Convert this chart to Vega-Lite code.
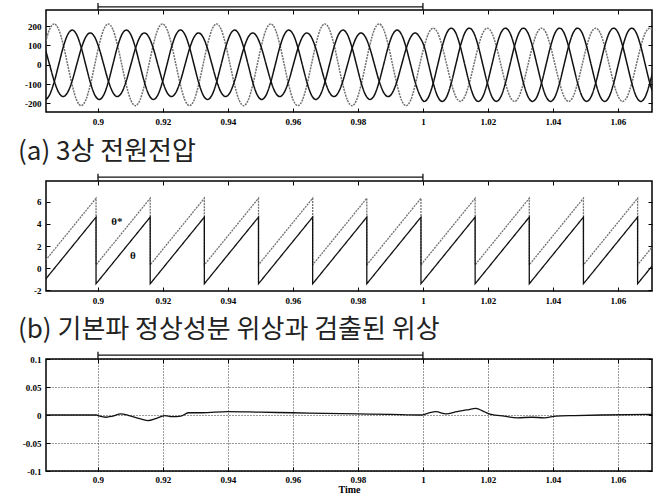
{
"$schema": "https://vega.github.io/schema/vega-lite/v6.json",
"padding": {"left": 17, "top": 1, "right": 0, "bottom": 0},
"background": "white",
"spacing": 6,
"config": {
 "view": {"stroke": "#000", "strokeWidth": 1.5},
 "axis": {"domain": false, "tickSize": -4, "tickColor": "#000", "tickWidth": 1, "labelFont": "Liberation Serif", "labelFontWeight": "bold", "labelFontSize": 9, "labelColor": "#000", "labelPadding": 9, "grid": false, "labelFlush": false, "labelOverlap": false},
 "title": {"font": "Noto Sans CJK KR", "fontSize": 26, "fontWeight": "normal", "color": "#222", "orient": "bottom", "anchor": "start", "frame": "group", "dx": -28}
},
"datasets": {
 "br": [{"from": 0.9, "to": 1.0}],
 "v3": [
{"t":0.88233,"p":"a","v":0},{"t":0.88372,"p":"a","v":106},{"t":0.88511,"p":"a","v":184},{"t":0.8865,"p":"a","v":212},{"t":0.88789,"p":"a","v":184},{"t":0.88928,"p":"a","v":106},{"t":0.89067,"p":"a","v":0},{"t":0.89206,"p":"a","v":-106},{"t":0.89344,"p":"a","v":-184},{"t":0.89483,"p":"a","v":-212},{"t":0.89622,"p":"a","v":-184},{"t":0.89761,"p":"a","v":-106},
{"t":0.899,"p":"a","v":0},{"t":0.90039,"p":"a","v":106},{"t":0.90178,"p":"a","v":184},{"t":0.90317,"p":"a","v":212},{"t":0.90456,"p":"a","v":184},{"t":0.90594,"p":"a","v":106},{"t":0.90733,"p":"a","v":0},{"t":0.90872,"p":"a","v":-106},{"t":0.91011,"p":"a","v":-184},{"t":0.9115,"p":"a","v":-212},{"t":0.91289,"p":"a","v":-184},{"t":0.91428,"p":"a","v":-106},
{"t":0.91567,"p":"a","v":0},{"t":0.91706,"p":"a","v":106},{"t":0.91844,"p":"a","v":184},{"t":0.91983,"p":"a","v":212},{"t":0.92122,"p":"a","v":184},{"t":0.92261,"p":"a","v":106},{"t":0.924,"p":"a","v":0},{"t":0.92539,"p":"a","v":-106},{"t":0.92678,"p":"a","v":-184},{"t":0.92817,"p":"a","v":-212},{"t":0.92956,"p":"a","v":-184},{"t":0.93094,"p":"a","v":-106},
{"t":0.93233,"p":"a","v":0},{"t":0.93372,"p":"a","v":106},{"t":0.93511,"p":"a","v":184},{"t":0.9365,"p":"a","v":212},{"t":0.93789,"p":"a","v":184},{"t":0.93928,"p":"a","v":106},{"t":0.94067,"p":"a","v":0},{"t":0.94206,"p":"a","v":-106},{"t":0.94344,"p":"a","v":-184},{"t":0.94483,"p":"a","v":-212},{"t":0.94622,"p":"a","v":-184},{"t":0.94761,"p":"a","v":-106},
{"t":0.949,"p":"a","v":0},{"t":0.95039,"p":"a","v":106},{"t":0.95178,"p":"a","v":184},{"t":0.95317,"p":"a","v":212},{"t":0.95456,"p":"a","v":184},{"t":0.95594,"p":"a","v":106},{"t":0.95733,"p":"a","v":0},{"t":0.95872,"p":"a","v":-106},{"t":0.96011,"p":"a","v":-184},{"t":0.9615,"p":"a","v":-212},{"t":0.96289,"p":"a","v":-184},{"t":0.96428,"p":"a","v":-106},
{"t":0.96567,"p":"a","v":0},{"t":0.96706,"p":"a","v":106},{"t":0.96844,"p":"a","v":184},{"t":0.96983,"p":"a","v":212},{"t":0.97122,"p":"a","v":184},{"t":0.97261,"p":"a","v":106},{"t":0.974,"p":"a","v":0},{"t":0.97539,"p":"a","v":-106},{"t":0.97678,"p":"a","v":-184},{"t":0.97817,"p":"a","v":-212},{"t":0.97956,"p":"a","v":-184},{"t":0.98094,"p":"a","v":-106},
{"t":0.98233,"p":"a","v":0},{"t":0.98372,"p":"a","v":106},{"t":0.98511,"p":"a","v":184},{"t":0.9865,"p":"a","v":212},{"t":0.98789,"p":"a","v":184},{"t":0.98928,"p":"a","v":106},{"t":0.99067,"p":"a","v":0},{"t":0.99206,"p":"a","v":-106},{"t":0.99344,"p":"a","v":-184},{"t":0.99483,"p":"a","v":-212},{"t":0.99622,"p":"a","v":-184},{"t":0.99761,"p":"a","v":-106},
{"t":0.999,"p":"a","v":0},{"t":1.00039,"p":"a","v":95},{"t":1.00178,"p":"a","v":165},{"t":1.00317,"p":"a","v":190},{"t":1.00456,"p":"a","v":165},{"t":1.00594,"p":"a","v":95},{"t":1.00733,"p":"a","v":0},{"t":1.00872,"p":"a","v":-95},{"t":1.01011,"p":"a","v":-165},{"t":1.0115,"p":"a","v":-190},{"t":1.01289,"p":"a","v":-165},{"t":1.01428,"p":"a","v":-95},
{"t":1.01567,"p":"a","v":0},{"t":1.01706,"p":"a","v":95},{"t":1.01844,"p":"a","v":165},{"t":1.01983,"p":"a","v":190},{"t":1.02122,"p":"a","v":165},{"t":1.02261,"p":"a","v":95},{"t":1.024,"p":"a","v":0},{"t":1.02539,"p":"a","v":-95},{"t":1.02678,"p":"a","v":-165},{"t":1.02817,"p":"a","v":-190},{"t":1.02956,"p":"a","v":-165},{"t":1.03094,"p":"a","v":-95},
{"t":1.03233,"p":"a","v":0},{"t":1.03372,"p":"a","v":95},{"t":1.03511,"p":"a","v":165},{"t":1.0365,"p":"a","v":190},{"t":1.03789,"p":"a","v":165},{"t":1.03928,"p":"a","v":95},{"t":1.04067,"p":"a","v":0},{"t":1.04206,"p":"a","v":-95},{"t":1.04344,"p":"a","v":-165},{"t":1.04483,"p":"a","v":-190},{"t":1.04622,"p":"a","v":-165},{"t":1.04761,"p":"a","v":-95},
{"t":1.049,"p":"a","v":0},{"t":1.05039,"p":"a","v":95},{"t":1.05178,"p":"a","v":165},{"t":1.05317,"p":"a","v":190},{"t":1.05456,"p":"a","v":165},{"t":1.05594,"p":"a","v":95},{"t":1.05733,"p":"a","v":0},{"t":1.05872,"p":"a","v":-95},{"t":1.06011,"p":"a","v":-165},{"t":1.0615,"p":"a","v":-190},{"t":1.06289,"p":"a","v":-165},{"t":1.06428,"p":"a","v":-95},
{"t":1.06567,"p":"a","v":0},{"t":1.06706,"p":"a","v":95},{"t":1.06844,"p":"a","v":165},{"t":1.06983,"p":"a","v":190},{"t":1.07122,"p":"a","v":165},
{"t":0.88233,"p":"b","v":-156},{"t":0.88372,"p":"b","v":-180},{"t":0.88511,"p":"b","v":-156},{"t":0.8865,"p":"b","v":-90},{"t":0.88789,"p":"b","v":0},{"t":0.88928,"p":"b","v":90},{"t":0.89067,"p":"b","v":156},{"t":0.89206,"p":"b","v":180},{"t":0.89344,"p":"b","v":156},{"t":0.89483,"p":"b","v":90},{"t":0.89622,"p":"b","v":0},{"t":0.89761,"p":"b","v":-90},
{"t":0.899,"p":"b","v":-156},{"t":0.90039,"p":"b","v":-180},{"t":0.90178,"p":"b","v":-156},{"t":0.90317,"p":"b","v":-90},{"t":0.90456,"p":"b","v":0},{"t":0.90594,"p":"b","v":90},{"t":0.90733,"p":"b","v":156},{"t":0.90872,"p":"b","v":180},{"t":0.91011,"p":"b","v":156},{"t":0.9115,"p":"b","v":90},{"t":0.91289,"p":"b","v":0},{"t":0.91428,"p":"b","v":-90},
{"t":0.91567,"p":"b","v":-156},{"t":0.91706,"p":"b","v":-180},{"t":0.91844,"p":"b","v":-156},{"t":0.91983,"p":"b","v":-90},{"t":0.92122,"p":"b","v":0},{"t":0.92261,"p":"b","v":90},{"t":0.924,"p":"b","v":156},{"t":0.92539,"p":"b","v":180},{"t":0.92678,"p":"b","v":156},{"t":0.92817,"p":"b","v":90},{"t":0.92956,"p":"b","v":0},{"t":0.93094,"p":"b","v":-90},
{"t":0.93233,"p":"b","v":-156},{"t":0.93372,"p":"b","v":-180},{"t":0.93511,"p":"b","v":-156},{"t":0.9365,"p":"b","v":-90},{"t":0.93789,"p":"b","v":0},{"t":0.93928,"p":"b","v":90},{"t":0.94067,"p":"b","v":156},{"t":0.94206,"p":"b","v":180},{"t":0.94344,"p":"b","v":156},{"t":0.94483,"p":"b","v":90},{"t":0.94622,"p":"b","v":0},{"t":0.94761,"p":"b","v":-90},
{"t":0.949,"p":"b","v":-156},{"t":0.95039,"p":"b","v":-180},{"t":0.95178,"p":"b","v":-156},{"t":0.95317,"p":"b","v":-90},{"t":0.95456,"p":"b","v":0},{"t":0.95594,"p":"b","v":90},{"t":0.95733,"p":"b","v":156},{"t":0.95872,"p":"b","v":180},{"t":0.96011,"p":"b","v":156},{"t":0.9615,"p":"b","v":90},{"t":0.96289,"p":"b","v":0},{"t":0.96428,"p":"b","v":-90},
{"t":0.96567,"p":"b","v":-156},{"t":0.96706,"p":"b","v":-180},{"t":0.96844,"p":"b","v":-156},{"t":0.96983,"p":"b","v":-90},{"t":0.97122,"p":"b","v":0},{"t":0.97261,"p":"b","v":90},{"t":0.974,"p":"b","v":156},{"t":0.97539,"p":"b","v":180},{"t":0.97678,"p":"b","v":156},{"t":0.97817,"p":"b","v":90},{"t":0.97956,"p":"b","v":0},{"t":0.98094,"p":"b","v":-90},
{"t":0.98233,"p":"b","v":-156},{"t":0.98372,"p":"b","v":-180},{"t":0.98511,"p":"b","v":-156},{"t":0.9865,"p":"b","v":-90},{"t":0.98789,"p":"b","v":0},{"t":0.98928,"p":"b","v":90},{"t":0.99067,"p":"b","v":156},{"t":0.99206,"p":"b","v":180},{"t":0.99344,"p":"b","v":156},{"t":0.99483,"p":"b","v":90},{"t":0.99622,"p":"b","v":0},{"t":0.99761,"p":"b","v":-90},
{"t":0.999,"p":"b","v":-156},{"t":1.00039,"p":"b","v":-190},{"t":1.00178,"p":"b","v":-165},{"t":1.00317,"p":"b","v":-95},{"t":1.00456,"p":"b","v":0},{"t":1.00594,"p":"b","v":95},{"t":1.00733,"p":"b","v":165},{"t":1.00872,"p":"b","v":190},{"t":1.01011,"p":"b","v":165},{"t":1.0115,"p":"b","v":95},{"t":1.01289,"p":"b","v":0},{"t":1.01428,"p":"b","v":-95},
{"t":1.01567,"p":"b","v":-165},{"t":1.01706,"p":"b","v":-190},{"t":1.01844,"p":"b","v":-165},{"t":1.01983,"p":"b","v":-95},{"t":1.02122,"p":"b","v":0},{"t":1.02261,"p":"b","v":95},{"t":1.024,"p":"b","v":165},{"t":1.02539,"p":"b","v":190},{"t":1.02678,"p":"b","v":165},{"t":1.02817,"p":"b","v":95},{"t":1.02956,"p":"b","v":0},{"t":1.03094,"p":"b","v":-95},
{"t":1.03233,"p":"b","v":-165},{"t":1.03372,"p":"b","v":-190},{"t":1.03511,"p":"b","v":-165},{"t":1.0365,"p":"b","v":-95},{"t":1.03789,"p":"b","v":0},{"t":1.03928,"p":"b","v":95},{"t":1.04067,"p":"b","v":165},{"t":1.04206,"p":"b","v":190},{"t":1.04344,"p":"b","v":165},{"t":1.04483,"p":"b","v":95},{"t":1.04622,"p":"b","v":0},{"t":1.04761,"p":"b","v":-95},
{"t":1.049,"p":"b","v":-165},{"t":1.05039,"p":"b","v":-190},{"t":1.05178,"p":"b","v":-165},{"t":1.05317,"p":"b","v":-95},{"t":1.05456,"p":"b","v":0},{"t":1.05594,"p":"b","v":95},{"t":1.05733,"p":"b","v":165},{"t":1.05872,"p":"b","v":190},{"t":1.06011,"p":"b","v":165},{"t":1.0615,"p":"b","v":95},{"t":1.06289,"p":"b","v":0},{"t":1.06428,"p":"b","v":-95},
{"t":1.06567,"p":"b","v":-165},{"t":1.06706,"p":"b","v":-190},{"t":1.06844,"p":"b","v":-165},{"t":1.06983,"p":"b","v":-95},{"t":1.07122,"p":"b","v":0},
{"t":0.88233,"p":"c","v":143},{"t":0.88372,"p":"c","v":83},{"t":0.88511,"p":"c","v":0},{"t":0.8865,"p":"c","v":-83},{"t":0.88789,"p":"c","v":-143},{"t":0.88928,"p":"c","v":-165},{"t":0.89067,"p":"c","v":-143},{"t":0.89206,"p":"c","v":-83},{"t":0.89344,"p":"c","v":0},{"t":0.89483,"p":"c","v":83},{"t":0.89622,"p":"c","v":143},{"t":0.89761,"p":"c","v":165},
{"t":0.899,"p":"c","v":143},{"t":0.90039,"p":"c","v":83},{"t":0.90178,"p":"c","v":0},{"t":0.90317,"p":"c","v":-83},{"t":0.90456,"p":"c","v":-143},{"t":0.90594,"p":"c","v":-165},{"t":0.90733,"p":"c","v":-143},{"t":0.90872,"p":"c","v":-83},{"t":0.91011,"p":"c","v":0},{"t":0.9115,"p":"c","v":83},{"t":0.91289,"p":"c","v":143},{"t":0.91428,"p":"c","v":165},
{"t":0.91567,"p":"c","v":143},{"t":0.91706,"p":"c","v":83},{"t":0.91844,"p":"c","v":0},{"t":0.91983,"p":"c","v":-83},{"t":0.92122,"p":"c","v":-143},{"t":0.92261,"p":"c","v":-165},{"t":0.924,"p":"c","v":-143},{"t":0.92539,"p":"c","v":-83},{"t":0.92678,"p":"c","v":0},{"t":0.92817,"p":"c","v":83},{"t":0.92956,"p":"c","v":143},{"t":0.93094,"p":"c","v":165},
{"t":0.93233,"p":"c","v":143},{"t":0.93372,"p":"c","v":83},{"t":0.93511,"p":"c","v":0},{"t":0.9365,"p":"c","v":-83},{"t":0.93789,"p":"c","v":-143},{"t":0.93928,"p":"c","v":-165},{"t":0.94067,"p":"c","v":-143},{"t":0.94206,"p":"c","v":-83},{"t":0.94344,"p":"c","v":0},{"t":0.94483,"p":"c","v":83},{"t":0.94622,"p":"c","v":143},{"t":0.94761,"p":"c","v":165},
{"t":0.949,"p":"c","v":143},{"t":0.95039,"p":"c","v":83},{"t":0.95178,"p":"c","v":0},{"t":0.95317,"p":"c","v":-83},{"t":0.95456,"p":"c","v":-143},{"t":0.95594,"p":"c","v":-165},{"t":0.95733,"p":"c","v":-143},{"t":0.95872,"p":"c","v":-83},{"t":0.96011,"p":"c","v":0},{"t":0.9615,"p":"c","v":83},{"t":0.96289,"p":"c","v":143},{"t":0.96428,"p":"c","v":165},
{"t":0.96567,"p":"c","v":143},{"t":0.96706,"p":"c","v":83},{"t":0.96844,"p":"c","v":0},{"t":0.96983,"p":"c","v":-83},{"t":0.97122,"p":"c","v":-143},{"t":0.97261,"p":"c","v":-165},{"t":0.974,"p":"c","v":-143},{"t":0.97539,"p":"c","v":-83},{"t":0.97678,"p":"c","v":0},{"t":0.97817,"p":"c","v":83},{"t":0.97956,"p":"c","v":143},{"t":0.98094,"p":"c","v":165},
{"t":0.98233,"p":"c","v":143},{"t":0.98372,"p":"c","v":83},{"t":0.98511,"p":"c","v":0},{"t":0.9865,"p":"c","v":-83},{"t":0.98789,"p":"c","v":-143},{"t":0.98928,"p":"c","v":-165},{"t":0.99067,"p":"c","v":-143},{"t":0.99206,"p":"c","v":-83},{"t":0.99344,"p":"c","v":0},{"t":0.99483,"p":"c","v":83},{"t":0.99622,"p":"c","v":143},{"t":0.99761,"p":"c","v":165},
{"t":0.999,"p":"c","v":143},{"t":1.00039,"p":"c","v":95},{"t":1.00178,"p":"c","v":0},{"t":1.00317,"p":"c","v":-95},{"t":1.00456,"p":"c","v":-165},{"t":1.00594,"p":"c","v":-190},{"t":1.00733,"p":"c","v":-165},{"t":1.00872,"p":"c","v":-95},{"t":1.01011,"p":"c","v":0},{"t":1.0115,"p":"c","v":95},{"t":1.01289,"p":"c","v":165},{"t":1.01428,"p":"c","v":190},
{"t":1.01567,"p":"c","v":165},{"t":1.01706,"p":"c","v":95},{"t":1.01844,"p":"c","v":0},{"t":1.01983,"p":"c","v":-95},{"t":1.02122,"p":"c","v":-165},{"t":1.02261,"p":"c","v":-190},{"t":1.024,"p":"c","v":-165},{"t":1.02539,"p":"c","v":-95},{"t":1.02678,"p":"c","v":0},{"t":1.02817,"p":"c","v":95},{"t":1.02956,"p":"c","v":165},{"t":1.03094,"p":"c","v":190},
{"t":1.03233,"p":"c","v":165},{"t":1.03372,"p":"c","v":95},{"t":1.03511,"p":"c","v":0},{"t":1.0365,"p":"c","v":-95},{"t":1.03789,"p":"c","v":-165},{"t":1.03928,"p":"c","v":-190},{"t":1.04067,"p":"c","v":-165},{"t":1.04206,"p":"c","v":-95},{"t":1.04344,"p":"c","v":0},{"t":1.04483,"p":"c","v":95},{"t":1.04622,"p":"c","v":165},{"t":1.04761,"p":"c","v":190},
{"t":1.049,"p":"c","v":165},{"t":1.05039,"p":"c","v":95},{"t":1.05178,"p":"c","v":0},{"t":1.05317,"p":"c","v":-95},{"t":1.05456,"p":"c","v":-165},{"t":1.05594,"p":"c","v":-190},{"t":1.05733,"p":"c","v":-165},{"t":1.05872,"p":"c","v":-95},{"t":1.06011,"p":"c","v":0},{"t":1.0615,"p":"c","v":95},{"t":1.06289,"p":"c","v":165},{"t":1.06428,"p":"c","v":190},
{"t":1.06567,"p":"c","v":165},{"t":1.06706,"p":"c","v":95},{"t":1.06844,"p":"c","v":0},{"t":1.06983,"p":"c","v":-95},{"t":1.07122,"p":"c","v":-165}
 ],
 "saw": [
{"i":0,"s":"ts","t":0.88273,"v":0.3},{"i":1,"s":"ts","t":0.8994,"v":6.3},{"i":2,"s":"ts","t":0.8994,"v":0.3},{"i":3,"s":"ts","t":0.91607,"v":6.3},{"i":4,"s":"ts","t":0.91607,"v":0.3},{"i":5,"s":"ts","t":0.93273,"v":6.3},{"i":6,"s":"ts","t":0.93273,"v":0.3},{"i":7,"s":"ts","t":0.9494,"v":6.3},{"i":8,"s":"ts","t":0.9494,"v":0.3},{"i":9,"s":"ts","t":0.96607,"v":6.3},{"i":10,"s":"ts","t":0.96607,"v":0.3},{"i":11,"s":"ts","t":0.98273,"v":6.3},{"i":12,"s":"ts","t":0.98273,"v":0.3},{"i":13,"s":"ts","t":0.9994,"v":6.3},{"i":14,"s":"ts","t":0.9994,"v":0.3},{"i":15,"s":"ts","t":1.01607,"v":6.3},{"i":16,"s":"ts","t":1.01607,"v":0.3},{"i":17,"s":"ts","t":1.03273,"v":6.3},{"i":18,"s":"ts","t":1.03273,"v":0.3},{"i":19,"s":"ts","t":1.0494,"v":6.3},{"i":20,"s":"ts","t":1.0494,"v":0.3},{"i":21,"s":"ts","t":1.06607,"v":6.3},{"i":22,"s":"ts","t":1.06607,"v":0.3},{"i":23,"s":"ts","t":1.08273,"v":6.3},
{"i":0,"s":"th","t":0.88273,"v":-1.4},{"i":1,"s":"th","t":0.8994,"v":4.6},{"i":2,"s":"th","t":0.8994,"v":-1.4},{"i":3,"s":"th","t":0.91607,"v":4.6},{"i":4,"s":"th","t":0.91607,"v":-1.4},{"i":5,"s":"th","t":0.93273,"v":4.6},{"i":6,"s":"th","t":0.93273,"v":-1.4},{"i":7,"s":"th","t":0.9494,"v":4.6},{"i":8,"s":"th","t":0.9494,"v":-1.4},{"i":9,"s":"th","t":0.96607,"v":4.6},{"i":10,"s":"th","t":0.96607,"v":-1.4},{"i":11,"s":"th","t":0.98273,"v":4.6},{"i":12,"s":"th","t":0.98273,"v":-1.4},{"i":13,"s":"th","t":0.9994,"v":4.6},{"i":14,"s":"th","t":0.9994,"v":-1.4},{"i":15,"s":"th","t":1.01607,"v":4.6},{"i":16,"s":"th","t":1.01607,"v":-1.4},{"i":17,"s":"th","t":1.03273,"v":4.6},{"i":18,"s":"th","t":1.03273,"v":-1.4},{"i":19,"s":"th","t":1.0494,"v":4.6},{"i":20,"s":"th","t":1.0494,"v":-1.4},{"i":21,"s":"th","t":1.06607,"v":4.6},{"i":22,"s":"th","t":1.06607,"v":-1.4},{"i":23,"s":"th","t":1.08273,"v":4.6}
 ],
 "lab": [{"t": 0.9058, "v": 4.2, "s": "θ*"}, {"t": 0.9107, "v": 1.1, "s": "θ"}],
 "err": [
{"t":0.884,"v":0},{"t":0.8995,"v":0},{"t":0.9005,"v":-0.002},{"t":0.9025,"v":-0.004},{"t":0.9045,"v":-0.002},{"t":0.907,"v":0.002},{"t":0.9095,"v":-0.001},{"t":0.9125,"v":-0.006},{"t":0.9153,"v":-0.01},{"t":0.918,"v":-0.006},{"t":0.9205,"v":-0.001},{"t":0.9228,"v":-0.003},{"t":0.9255,"v":-0.002},{"t":0.9278,"v":0.004},{"t":0.932,"v":0.004},{"t":0.94,"v":0.006},{"t":0.95,"v":0.005},{"t":0.96,"v":0.004},{"t":0.97,"v":0.003},{"t":0.98,"v":0.002},{"t":0.99,"v":0.001},{"t":0.9995,"v":0},{"t":1.0015,"v":0.003},{"t":1.004,"v":0.006},{"t":1.0071,"v":0.002},{"t":1.0105,"v":0.006},{"t":1.0135,"v":0.009},{"t":1.0163,"v":0.012},{"t":1.0188,"v":0.006},{"t":1.021,"v":0.001},{"t":1.025,"v":-0.002},{"t":1.0291,"v":-0.005},{"t":1.0335,"v":-0.004},{"t":1.0373,"v":-0.005},{"t":1.041,"v":-0.002},{"t":1.0465,"v":-0.001},{"t":1.055,"v":0},{"t":1.0705,"v":0.001}
 ]
},
"vconcat": [
 {
  "width": 606, "height": 102,
  "title": {"text": "(a) 3상 전원전압", "offset": 13},
  "resolve": {"axis": {"x": "independent", "y": "independent"}},
  "layer": [
   {"data": {"name": "v3"}, "mark": {"type": "line", "clip": true, "interpolate": "monotone", "strokeWidth": 1.5},
    "encoding": {
     "x": {"field": "t", "type": "quantitative", "scale": {"domain": [0.884, 1.0705], "nice": false, "zero": false}, "axis": {"orient": "bottom", "title": null, "values": [0.9, 0.92, 0.94, 0.96, 0.98, 1, 1.02, 1.04, 1.06], "labelExpr": "'' + datum.value"}},
     "y": {"field": "v", "type": "quantitative", "scale": {"domain": [-245, 284], "nice": false, "zero": false}, "axis": {"orient": "left", "title": null, "values": [-200, -100, 0, 100, 200], "labelExpr": "'' + datum.value"}},
     "color": {"field": "p", "type": "nominal", "scale": {"domain": ["a", "b", "c"], "range": ["#707070", "#111111", "#111111"]}, "legend": null},
     "strokeDash": {"field": "p", "type": "nominal", "scale": {"domain": ["a", "b", "c"], "range": [[2, 1], [1, 0], [1, 0]]}, "legend": null}
    }},
   {"data": {"name": "v3"}, "mark": {"type": "point", "opacity": 0},
    "encoding": {
     "x": {"field": "t", "type": "quantitative", "axis": {"orient": "top", "title": null, "labels": false, "values": [0.9, 0.92, 0.94, 0.96, 0.98, 1, 1.02, 1.04, 1.06]}},
     "y": {"field": "v", "type": "quantitative", "axis": {"orient": "right", "title": null, "labels": false, "values": [-200, -100, 0, 100, 200]}}
    }},
   {"data": {"name": "br"}, "mark": {"type": "rule", "clip": false, "color": "#111", "strokeWidth": 1.3},
    "encoding": {"x": {"field": "from", "type": "quantitative", "axis": null}, "x2": {"field": "to"}, "y": {"datum": 300, "axis": null}}},
   {"data": {"name": "br"}, "mark": {"type": "rule", "clip": false, "color": "#111", "strokeWidth": 1.3},
    "encoding": {"x": {"field": "from", "type": "quantitative", "axis": null}, "y": {"datum": 284, "axis": null}, "y2": {"datum": 320}}},
   {"data": {"name": "br"}, "mark": {"type": "rule", "clip": false, "color": "#111", "strokeWidth": 1.3},
    "encoding": {"x": {"field": "to", "type": "quantitative", "axis": null}, "y": {"datum": 284, "axis": null}, "y2": {"datum": 320}}}
  ]
 },
 {
  "width": 606, "height": 110,
  "title": {"text": "(b) 기본파 정상성분 위상과 검출된 위상", "offset": 12},
  "resolve": {"axis": {"x": "independent", "y": "independent"}},
  "layer": [
   {"data": {"name": "saw"}, "mark": {"type": "line", "clip": true, "strokeWidth": 1.3},
    "encoding": {
     "x": {"field": "t", "type": "quantitative", "scale": {"domain": [0.884, 1.0705], "nice": false, "zero": false}, "axis": {"orient": "bottom", "title": null, "values": [0.9, 0.92, 0.94, 0.96, 0.98, 1, 1.02, 1.04, 1.06], "labelExpr": "'' + datum.value"}},
     "y": {"field": "v", "type": "quantitative", "scale": {"domain": [-2.05, 7.85], "nice": false, "zero": false}, "axis": {"orient": "left", "title": null, "values": [-2, 0, 2, 4, 6], "labelExpr": "'' + datum.value"}},
     "order": {"field": "i", "type": "quantitative"},
     "color": {"field": "s", "type": "nominal", "scale": {"domain": ["ts", "th"], "range": ["#222222", "#111111"]}, "legend": null},
     "strokeDash": {"field": "s", "type": "nominal", "scale": {"domain": ["ts", "th"], "range": [[7, 2], [1, 0]]}, "legend": null}
    }},
   {"data": {"name": "saw"}, "mark": {"type": "point", "opacity": 0},
    "encoding": {
     "x": {"field": "t", "type": "quantitative", "axis": {"orient": "top", "title": null, "labels": false, "values": [0.9, 0.92, 0.94, 0.96, 0.98, 1, 1.02, 1.04, 1.06]}},
     "y": {"field": "v", "type": "quantitative", "axis": {"orient": "right", "title": null, "labels": false, "values": [-2, 0, 2, 4, 6]}}
    }},
   {"data": {"name": "lab"}, "mark": {"type": "text", "font": "Liberation Serif", "fontWeight": "bold", "fontSize": 11, "color": "#111"},
    "encoding": {"x": {"field": "t", "type": "quantitative", "axis": null}, "y": {"field": "v", "type": "quantitative", "axis": null}, "text": {"field": "s"}}},
   {"data": {"name": "br"}, "mark": {"type": "rule", "clip": false, "color": "#111", "strokeWidth": 1.3},
    "encoding": {"x": {"field": "from", "type": "quantitative", "axis": null}, "x2": {"field": "to"}, "y": {"datum": 8.2, "axis": null}}},
   {"data": {"name": "br"}, "mark": {"type": "rule", "clip": false, "color": "#111", "strokeWidth": 1.3},
    "encoding": {"x": {"field": "from", "type": "quantitative", "axis": null}, "y": {"datum": 7.85, "axis": null}, "y2": {"datum": 8.5}}},
   {"data": {"name": "br"}, "mark": {"type": "rule", "clip": false, "color": "#111", "strokeWidth": 1.3},
    "encoding": {"x": {"field": "to", "type": "quantitative", "axis": null}, "y": {"datum": 7.85, "axis": null}, "y2": {"datum": 8.5}}}
  ]
 },
 {
  "width": 606, "height": 112,
  "resolve": {"axis": {"x": "independent", "y": "independent"}},
  "layer": [
   {"data": {"name": "err"}, "mark": {"type": "line", "clip": true, "interpolate": "monotone", "strokeWidth": 1.3, "color": "#111"},
    "encoding": {
     "x": {"field": "t", "type": "quantitative", "scale": {"domain": [0.884, 1.0705], "nice": false, "zero": false}, "axis": {"orient": "bottom", "title": "Time", "titleFont": "Liberation Serif", "titleFontWeight": "bold", "titleFontSize": 10, "titleColor": "#000", "titlePadding": 0, "labelPadding": 8, "values": [0.9, 0.92, 0.94, 0.96, 0.98, 1, 1.02, 1.04, 1.06], "labelExpr": "'' + datum.value", "grid": true, "gridColor": "#000", "gridDash": [1, 2], "gridWidth": 0.8, "gridOpacity": 1}},
     "y": {"field": "v", "type": "quantitative", "scale": {"domain": [-0.1, 0.1], "nice": false, "zero": false}, "axis": {"orient": "left", "title": null, "values": [-0.1, -0.05, 0, 0.05, 0.1], "labelExpr": "'' + datum.value", "grid": true, "gridColor": "#000", "gridDash": [1, 2], "gridWidth": 0.8, "gridOpacity": 1}}
    }},
   {"data": {"name": "err"}, "mark": {"type": "point", "opacity": 0},
    "encoding": {
     "x": {"field": "t", "type": "quantitative", "axis": {"orient": "top", "title": null, "labels": false, "values": [0.9, 0.92, 0.94, 0.96, 0.98, 1, 1.02, 1.04, 1.06]}},
     "y": {"field": "v", "type": "quantitative", "axis": {"orient": "right", "title": null, "labels": false, "values": [-0.1, -0.05, 0, 0.05, 0.1]}}
    }},
   {"data": {"name": "br"}, "mark": {"type": "rule", "clip": false, "color": "#111", "strokeWidth": 1.3},
    "encoding": {"x": {"field": "from", "type": "quantitative", "axis": null}, "x2": {"field": "to"}, "y": {"datum": 0.107, "axis": null}}},
   {"data": {"name": "br"}, "mark": {"type": "rule", "clip": false, "color": "#111", "strokeWidth": 1.3},
    "encoding": {"x": {"field": "from", "type": "quantitative", "axis": null}, "y": {"datum": 0.1, "axis": null}, "y2": {"datum": 0.113}}},
   {"data": {"name": "br"}, "mark": {"type": "rule", "clip": false, "color": "#111", "strokeWidth": 1.3},
    "encoding": {"x": {"field": "to", "type": "quantitative", "axis": null}, "y": {"datum": 0.1, "axis": null}, "y2": {"datum": 0.113}}}
  ]
 }
]
}
